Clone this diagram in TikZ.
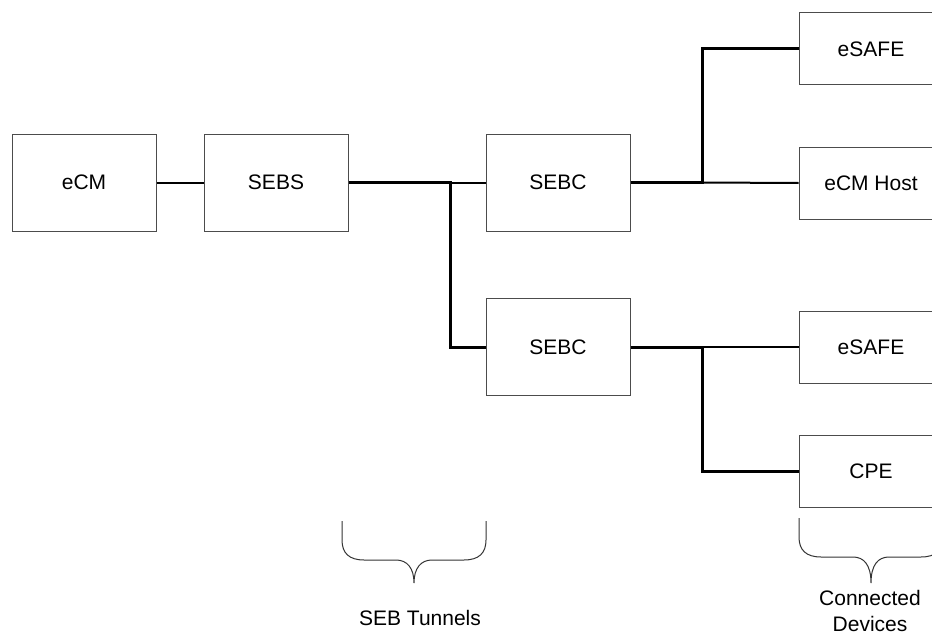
\documentclass[tikz,border=0pt]{standalone}
\usepackage{fontspec}
\setmainfont{Liberation Sans}
\begin{document}
\begin{tikzpicture}[x=1pt,y=-1pt,
  box/.style={draw=black!70,line width=1pt,fill=white,inner sep=0pt,minimum width=144pt,
    font=\fontsize{21}{26}\selectfont},
  bigbox/.style={box,minimum height=97pt},
  smallbox/.style={box,minimum height=72pt},
  thinlink/.style={line width=2pt,draw=black},
  thicklink/.style={line width=3pt,draw=black},
  bracepath/.style={draw=black!80,line width=1pt},
  lbl/.style={font=\fontsize{21}{26}\selectfont,align=center,inner sep=0pt}]
\clip (0,0) rectangle (932,634);
\fill[white] (0,0) rectangle (932,634);

\node[bigbox] (ecm)   at (84,182.5)  {eCM};
\node[bigbox] (sebs)  at (276,182.5) {SEBS};
\node[bigbox] (sebc1) at (558,182.5) {SEBC};
\node[bigbox] (sebc2) at (558,347)   {SEBC};
\node[smallbox] (esafe1) at (871,49)  {eSAFE};
\node[smallbox] (host)   at (871,183) {eCM Host};
\node[smallbox] (esafe2) at (871,347) {eSAFE};
\node[smallbox] (cpe)    at (871,471) {CPE};

\coordinate (j1) at (450,182.5);
\coordinate (j2) at (702,182.5);
\coordinate (j3) at (702,347);

\draw[thinlink] (ecm.east) -- (sebs.west);
\draw[thinlink] (j1) -- (sebc1.west);
\draw[thicklink,line join=miter] (sebs.east) -- (j1) |- (sebc2.west);
\draw[thinlink] (j2) -- (host.west);
\draw[thicklink,line join=miter] (sebc1.east) -- (j2) |- (esafe1.west);
\draw[thinlink] (j3) -- (esafe2.west);
\draw[thicklink,line join=miter] (sebc2.east) -- (j3) |- (cpe.west);

% braces
\draw[bracepath] (342,521) -- (342,540) .. controls (342,553) and (349,560) .. (364,560)
  -- (396,560) .. controls (407,560) and (414,568) .. (414,583)
  .. controls (414,568) and (421,560) .. (432,560) -- (464,560)
  .. controls (479,560) and (486,553) .. (486,540) -- (486,521);
\draw[bracepath] (799,518) -- (799,537) .. controls (799,550) and (806,557) .. (821,557)
  -- (853,557) .. controls (864,557) and (871,565) .. (871,583)
  .. controls (871,565) and (878,557) .. (889,557) -- (921,557)
  .. controls (936,557) and (943,550) .. (943,537) -- (943,518);

\node[lbl] (tunnels) at (420,618) {SEB Tunnels};
\node[lbl,anchor=north] (devices) at (870,590) {Connected\\Devices};
\end{tikzpicture}
\end{document}
